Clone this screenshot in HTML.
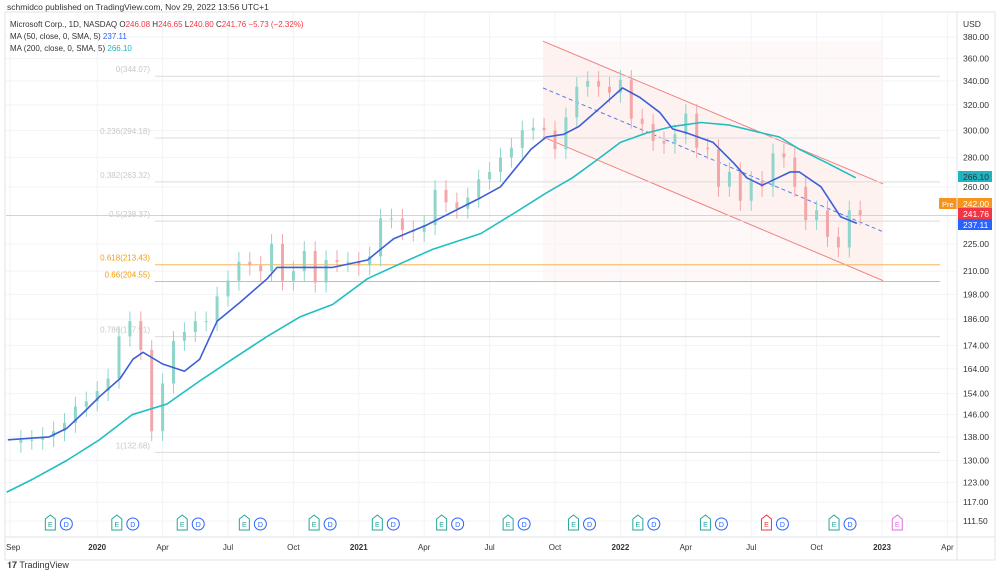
<!DOCTYPE html>
<html><head><meta charset="utf-8">
<style>
body{margin:0;background:#fff;font-family:"Liberation Sans",sans-serif;}
#wrap{position:relative;width:1000px;height:575px;overflow:hidden;background:#fff;}
svg text{font-family:"Liberation Sans",sans-serif;}
</style></head>
<body>
<div id="wrap">
<svg id="chart" width="1000" height="575"></svg>
</div>
<script>
// ---- data ----
const closes = [136,137,137,138,140,143,149,151,155,160,178,185,172,140,158,176,180,185,185,197,205,215,213,210,225,205,210,221,204,216,215,215,213,218,240,240,233,232,236,258,250,246,253,265,270,280,287,300,302,300,286,310,335,340,335,330,341,309,305,292,290,297,313,287,286,260,270,251,264,260,283,280,260,239,245,229,223,245,242];
const ma50Months = [-0.1,1.8,2.6,3.4,4.13,5.05,5.64,6.1,7.0,8.0,8.7,9.5,10.55,11.8,12.25,13.3,14.8,16.4,17.6,19.1,21.6,22.5,23.9,24.6,25.4,26.1,27.1,28.1,28.9,29.8,30.4,31.05,32.25,33.2,33.8,34.5,35.8,36.2,37.2,38.1,38.85];
const ma50Values = [137,138,141,147,153,160,168,171,166,163,168,185,194,206,212,212,212,216,228,236,253,260,286,295,297,303,318,334,326,314,301,298,291,276,266,261,270,270,260,241,237];
const ma200Months = [-0.15,1.05,2.6,4.1,5.6,7.2,8.7,10.2,11.8,13.3,14.8,16.4,17.9,19.4,21.6,23.1,24.6,25.8,26.9,28.0,29.2,30.4,31.7,33.0,34.5,35.3,36.2,37.5,38.8];
const ma200Values = [120,124,130,137,146,150,159,168,178,187,193,206,214,222,231,243,256,266,278,291,298,303,306,304,298,295,286,276,266];
const fibLevels = ["0(344.07)","0.236(294.18)","0.382(263.32)","0.5(238.37)","0.618(213.43)","0.66(204.55)","0.786(177.91)","1(132.68)"];
const fibPrices = [344.07,294.18,263.32,238.37,213.43,204.55,177.91,132.68];
const yTicks = [380,360,340,320,300,280,260,225,210,198,186,174,164,154,146,138,130,123,117,111.5];
const xLabels = ["Sep","2020","Apr","Jul","Oct","2021","Apr","Jul","Oct","2022","Apr","Jul","Oct","2023","Apr"];
const xLabelMonths = [0,4,7,10,13,16,19,22,25,28,31,34,37,40,43];
const eventMonths = [1.85,4.9,7.9,10.75,13.95,16.85,19.8,22.85,25.85,28.8,31.9,34.7,37.8,40.7];
const eventTypes = ["ED","ED","ED","ED","ED","ED","ED","ED","ED","ED","ED","RD","ED","P"];
const chanMonths = [24.45,40.05];
const chanUpper = [376,262];
const chanLower = [295,205];
const chanMid = [334,232];

// ---- axes ----
const X = t => 10 + 21.8*t;
const Y = p => 37 + 394.8*Math.log(380/p);
const NS = "http://www.w3.org/2000/svg";
const svg = document.getElementById('chart');
function mk(tag, attrs, parent){const e=document.createElementNS(NS,tag);for(const k in attrs)e.setAttribute(k,attrs[k]);(parent||svg).appendChild(e);return e;}

mk('rect',{x:5,y:12,width:990,height:548,fill:'none',stroke:'#e0e3eb'});
const hdr = mk('text',{x:7,y:10,'font-size':8.5,fill:'#333'}); hdr.textContent='schmidco published on TradingView.com, Nov 29, 2022 13:56 UTC+1';



yTicks.forEach(p=>{const g=mk('line',{x1:6,x2:957,y1:Y(p),y2:Y(p),stroke:'#f2f3f6'});
 
 });
xLabelMonths.forEach(m=>{const g=mk('line',{x1:X(m),x2:X(m),y1:13,y2:537,stroke:'#f2f3f6'});
 
 });

const cp = `${X(chanMonths[0])},${Y(chanUpper[0])} ${X(chanMonths[1])},${Y(chanUpper[1])} ${X(chanMonths[1])},${Y(chanLower[1])} ${X(chanMonths[0])},${Y(chanLower[0])}`;
const cf = mk('polygon',{points:cp,fill:'#fdeceb',opacity:0.8});


const cb = mk('rect',{x:X(chanMonths[0]),y:Y(chanUpper[0]),width:X(chanMonths[1])-X(chanMonths[0]),height:Y(chanLower[1])-Y(chanUpper[0]),fill:'#fdf3f2',opacity:0.5});


[[chanUpper,'channel-upper','none'],[chanLower,'channel-lower','none'],[chanMid,'channel-mid','4,3']].forEach(([arr,n,d])=>{
 const l=mk('line',{x1:X(chanMonths[0]),y1:Y(arr[0]),x2:X(chanMonths[1]),y2:Y(arr[1]),stroke:n==='channel-mid'?'#5b7be0':'#f08080','stroke-width':1,'stroke-dasharray':d});
 
 
});

fibPrices.forEach((p,i)=>{
 const orange = i===4||i===5;
 const col = orange?'#f7b55a':'#dcdcdc';
 const l=mk('line',{x1:155,x2:940,y1:Y(p),y2:Y(p),stroke:col,'stroke-width':1});
 
 
 const t=mk('text',{x:150,y:Y(p)-4,'text-anchor':'end','font-size':8,fill:orange?'#f39c12':'#c8c8c8'});
 t.textContent=fibLevels[i];
 
 
});
const pl=mk('line',{x1:6,x2:957,y1:Y(241.76),y2:Y(241.76),stroke:'#f7c6b8','stroke-width':1});



for(let i=1;i<closes.length;i++){
 const o=closes[i-1], c=closes[i], t=i*0.5;
 const up=c>=o, col=up?'#8fd5ca':'#f2a8a8';
 const hi=Math.max(o,c)*1.025, lo=Math.min(o,c)*0.975;
 const w=mk('line',{x1:X(t),x2:X(t),y1:Y(hi),y2:Y(lo),stroke:col,'stroke-width':1});
 
 
 const b=mk('rect',{x:X(t)-1.5,y:Y(Math.max(o,c)),width:3,height:Math.max(1,Math.abs(Y(o)-Y(c))),fill:col});
 
 
}

function line(ms,vs,col,name){
 const d=ms.map((m,i)=>(i?'L':'M')+X(m).toFixed(1)+','+Y(vs[i]).toFixed(1)).join(' ');
 const p=mk('path',{d:d,fill:'none',stroke:col,'stroke-width':1.6,'stroke-linejoin':'round'});
 
 
}
line(ma200Months,ma200Values,'#1fbfc1','ma200-line');
line(ma50Months,ma50Values,'#3c5fd8','ma50-line');

const yt=mk('text',{x:963,y:27,'font-size':8.5,fill:'#333'}); yt.textContent='USD';


yTicks.forEach(p=>{const t=mk('text',{x:963,y:Y(p)+3,'font-size':8.5,fill:'#333'});t.textContent=p.toFixed(2);
 
 });
[[266.10,'#1cb5c4','266.10','#333','ma200-tag',177],[242.00,'#f7941d','242.00','#fff','pre-tag',204],[241.76,'#f23645','241.76','#fff','last-price-tag',214],[237.11,'#2962ff','237.11','#fff','ma50-tag',225]].forEach(a=>{
 const r=mk('rect',{x:958,y:a[5]-6,width:34,height:11,fill:a[1]});
 
 
 const t=mk('text',{x:963,y:a[5]+3,'font-size':8.5,fill:a[3]});t.textContent=a[2];
 
 
});
const pr=mk('rect',{x:939,y:198,width:19,height:11,fill:'#f7941d',rx:1});


const prt=mk('text',{x:942,y:207,'font-size':7.5,fill:'#fff'});prt.textContent='Pre';



mk('line',{x1:5,x2:995,y1:537,y2:537,stroke:'#e0e3eb'});
mk('line',{x1:957,x2:957,y1:12,y2:560,stroke:'#e0e3eb'});
xLabels.forEach((s,i)=>{const t=mk('text',{x:X(xLabelMonths[i]),y:550,'font-size':8,fill:'#333','text-anchor':s==='Sep'?'start':'middle','font-weight':/^\d/.test(s)?'bold':'normal'});
 if(s==='Sep')t.setAttribute('x',6);
 t.textContent=s;
 
 });

eventMonths.forEach((m,i)=>{
 const ty=eventTypes[i], x=X(m);
 const ecol = ty[0]==='R'?'#f23645':ty==='P'?'#e36be0':'#26a69a';
 const e=mk('path',{d:`M${x-5},${519} L${x},${515} L${x+5},${519} L${x+5},${530} L${x-5},${530} Z`,fill:'#fff',stroke:ecol,'stroke-width':1});
 
 
 const et=mk('text',{x:x,y:527,'text-anchor':'middle','font-size':7,fill:ecol});et.textContent='E';
 
 
 if(ty!=='P'){
  const dx=x+16;
  const d=mk('circle',{cx:dx,cy:524,r:6,fill:'#fff',stroke:'#2962ff','stroke-width':1});
  
  
  const dt=mk('text',{x:dx,y:527,'text-anchor':'middle','font-size':7,fill:'#2962ff'});dt.textContent='D';
  
  
 }
});

const lg=[ [['Microsoft Corp., 1D, NASDAQ  ','#333'],['O','#333'],['246.08 ','#f23645'],['H','#333'],['246.65 ','#f23645'],['L','#333'],['240.80 ','#f23645'],['C','#333'],['241.76  −5.73 (−2.32%)','#f23645']],
 [['MA (50, close, 0, SMA, 5) ','#333'],['237.11','#2962ff']],
 [['MA (200, close, 0, SMA, 5) ','#333'],['266.10','#1cb5c4']] ];
lg.forEach((row,i)=>{const t=mk('text',{x:10,y:27+i*12,'font-size':8,'xml:space':'preserve'});
 row.forEach(s=>{const ts=mk('tspan',{fill:s[1]},t);ts.textContent=s[0];});
 
 });

const ft=mk('text',{x:7,y:568,'font-size':9,fill:'#333'});ft.textContent='𝟏𝟕 TradingView';


</script>
</body></html>
